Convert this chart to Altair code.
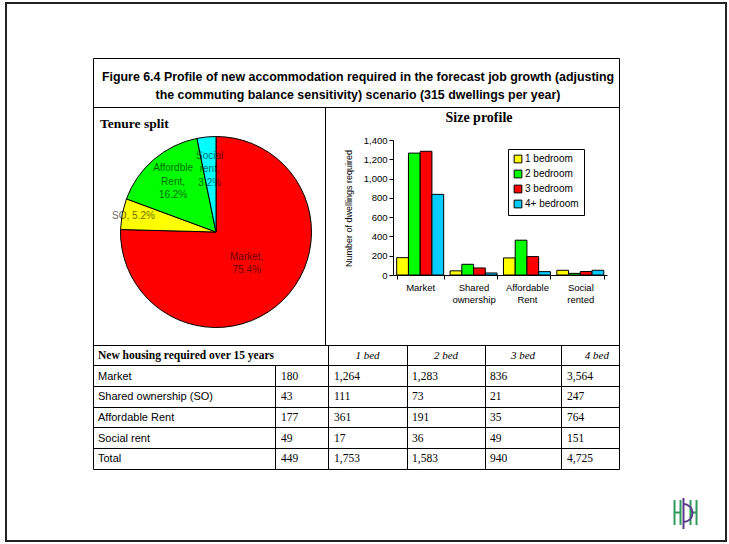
import altair as alt
import pandas as pd

# ---------------- data ----------------
title_lines = [
    "Figure 6.4 Profile of new accommodation required in the forecast job growth (adjusting",
    "the commuting balance sensitivity) scenario (315 dwellings per year)",
]
tenures = ["Market", "SO", "Affordable Rent", "Social rent"]
tenure_totals = [3564, 247, 764, 151]
pie_labels = ["Market,\n75.4%", "SO, 5.2%", "Affordble\nRent,\n16.2%", "Social\nrent,\n3.2%"]
pie_colors = ["#FF0000", "#FFFF00", "#00FF00", "#00FFFF"]

groups = ["Market", "Shared ownership", "Affordable Rent", "Social rented"]
sizes = ["1 bedroom", "2 bedroom", "3 bedroom", "4+ bedroom"]
bed1 = [180, 43, 177, 49]
bed2 = [1264, 111, 361, 17]
bed3 = [1283, 73, 191, 36]
bed4 = [836, 21, 35, 49]
bar_colors = ["#FFFF00", "#00FF00", "#FF0000", "#00CCFF"]
y_ticks = [0, 200, 400, 600, 800, 1000, 1200, 1400]

table_title = "New housing required over 15 years"
col_headers = ["1 bed", "2 bed", "3 bed", "4 bed"]
row_labels = ["Market", "Shared ownership (SO)", "Affordable Rent", "Social rent", "Total"]
tcol1 = [180, 43, 177, 49, 449]
tcol2 = [1264, 111, 361, 17, 1753]
tcol3 = [1283, 73, 191, 36, 1583]
tcol4 = [836, 21, 35, 49, 940]
tcol5 = [3564, 247, 764, 151, 4725]

SANS = "Liberation Sans, Arial, sans-serif"
NARROW = "Liberation Sans Narrow, Arial Narrow, Liberation Sans, sans-serif"
SERIF = "Liberation Serif, Times New Roman, serif"

one = pd.DataFrame({"k": [0]})


def hline(y, x1, x2, w=1, c="black"):
    return alt.Chart(one).mark_rule(strokeWidth=w, color=c).encode(
        y=alt.value(y), x=alt.value(x1), x2=alt.value(x2))


def vline(x, y1, y2, w=1, c="black"):
    return alt.Chart(one).mark_rule(strokeWidth=w, color=c).encode(
        x=alt.value(x), y=alt.value(y1), y2=alt.value(y2))


def txt(s, x, y, **kw):
    return alt.Chart(one).mark_text(text=s, baseline="middle", **kw).encode(
        x=alt.value(x), y=alt.value(y))


layers = []

# ---------------- frame ----------------
layers.append(alt.Chart(one).mark_rect(fillOpacity=0, stroke="#222222", strokeWidth=2).encode(
    x=alt.value(6), x2=alt.value(726), y=alt.value(3), y2=alt.value(541)))
BL, BR, BT, BB = 93.5, 619.5, 58.5, 469.5
layers += [
    hline(BT, BL, BR), hline(BB, BL, BR), vline(BL, BT, BB), vline(BR, BT, BB),
    hline(107.5, BL, BR), hline(345.5, BL, BR), vline(325.5, 107.5, 345.5),
]
row_edges = [365.5, 386.5, 407.5, 427.5, 448.5]
for ry in row_edges:
    layers.append(hline(ry, BL, BR))
layers.append(vline(275.5, 365.5, BB))
for cx in [328.5, 407.5, 485.5, 561.5]:
    layers.append(vline(cx, 345.5, BB))

# ---------------- titles ----------------
layers.append(txt(title_lines[0], 358, 76.5, font=SANS, fontSize=12.4, fontWeight="bold", align="center"))
layers.append(txt(title_lines[1], 358, 95, font=SANS, fontSize=12.4, fontWeight="bold", align="center"))
layers.append(txt("Tenure split", 100, 124, font=SERIF, fontSize=13.5, fontWeight="bold", align="left"))
layers.append(txt("Size profile", 479, 118, font=SERIF, fontSize=14, fontWeight="bold", align="center"))

# ---------------- pie ----------------
pie_df = pd.DataFrame({"tenure": tenures, "total": tenure_totals,
                       "label": pie_labels, "idx": list(range(len(tenures)))})
pie = alt.Chart(pie_df).mark_arc(outerRadius=95.5, stroke="black", strokeWidth=1).encode(
    theta=alt.Theta("total:Q", stack=True),
    order=alt.Order("idx:Q"),
    color=alt.Color("tenure:N", sort=tenures,
                    scale=alt.Scale(domain=tenures, range=pie_colors), legend=None),
    x=alt.value(216), y=alt.value(232),
)
layers.append(pie)
LH = 13.5
for n in (1, 2, 3):
    lbl = alt.Chart(pie_df).transform_joinaggregate(
        tot="sum(total)"
    ).transform_window(
        cum="sum(total)", sort=[alt.SortField("idx")], frame=[None, 0]
    ).transform_calculate(
        frac="(datum.cum - datum.total / 2) / datum.tot",
        lr="datum.tenure == 'Market' ? 44 : datum.tenure == 'SO' ? 84 : datum.tenure == 'Affordable Rent' ? 66 : 63",
        nl="length(split(datum.label, '\\n'))",
    ).transform_filter(
        f"datum.nl == {n}"
    ).mark_text(lineBreak="\n", font=NARROW, fontSize=10, lineHeight=LH,
                align="center", baseline="middle", fill="black", opacity=0.6,
                dy=-(n - 1) * LH / 2).encode(
        theta=alt.Theta("frac:Q", stack=None,
                        scale=alt.Scale(domain=[0, 1], range=[0, 6.283185307])),
        radius=alt.Radius("lr:Q", scale=None),
        text="label:N",
        x=alt.value(216), y=alt.value(232),
    )
    layers.append(lbl)

# ---------------- bars ----------------
bar_rows = []
for s, vals in zip(sizes, [bed1, bed2, bed3, bed4]):
    for g, v in zip(groups, vals):
        bar_rows.append({"group": g, "size": s, "value": v})
bar_df = pd.DataFrame(bar_rows)

bars = alt.Chart(bar_df).mark_bar(stroke="black", strokeWidth=1).encode(
    x=alt.X("group:N", sort=groups, title=None,
            scale=alt.Scale(range=[393.5, 607], paddingInner=0.12, paddingOuter=0.06),
            axis=alt.Axis(orient="bottom", offset=-269, labelAngle=0,
                          labelExpr="split(datum.label, ' ')",
                          labelFont=SANS, labelFontSize=9.5, labelColor="black",
                          labelLineHeight=12, labelPadding=3,
                          tickBand="extent", tickSize=4, tickColor="black",
                          domainColor="black", grid=False)),
    xOffset=alt.XOffset("size:N", sort=sizes),
    y=alt.Y("value:Q",
            scale=alt.Scale(domain=[0, 1400], range=[275, 140], nice=False),
            axis=alt.Axis(orient="left", offset=-393, values=y_ticks, format=",d",
                          title="Number of dwellings required", titleFont=SANS,
                          titleFontSize=9, titleFontWeight="normal", titleColor="black",
                          titleX=-45, titleY=208, titleAlign="center", titleBaseline="middle",
                          labelFont=SANS, labelFontSize=9.5, labelColor="black",
                          labelPadding=2, tickSize=4, tickColor="black",
                          domainColor="black", grid=False)),
    color=alt.Color("size:N", sort=sizes,
                    scale=alt.Scale(domain=sizes, range=bar_colors),
                    legend=alt.Legend(orient="none", legendX=508, legendY=149, title=None,
                                      strokeColor="black", fillColor="white", padding=5,
                                      symbolType="square", symbolSize=60,
                                      symbolStrokeColor="black", symbolStrokeWidth=1,
                                      symbolOpacity=1, labelFont=SANS, labelFontSize=10,
                                      labelColor="black", rowPadding=3, labelOffset=2)),
)
layers.append(bars)

# ---------------- table ----------------
ty = alt.Y("row:O", axis=None,
           scale=alt.Scale(type="point", domain=list(range(6)), range=[345.5, 469.5], padding=0.5))

hdr_df = pd.DataFrame({"row": [0], "text": [table_title]})
layers.append(alt.Chart(hdr_df).mark_text(font=SERIF, fontSize=11.5, fontWeight="bold",
                                          align="left", baseline="middle").encode(
    x=alt.value(98), y=ty, text="text:N"))
hdr_x = [367.5, 446, 523, 609]
hdr_align = ["center", "center", "center", "right"]
for h, hx, ha in zip(col_headers, hdr_x, hdr_align):
    d = pd.DataFrame({"row": [0], "text": [h]})
    layers.append(alt.Chart(d).mark_text(font=SERIF, fontSize=11, fontStyle="italic",
                                         align=ha, baseline="middle").encode(
        x=alt.value(hx), y=ty, text="text:N"))

lab_df = pd.DataFrame({"row": list(range(1, 6)), "text": row_labels})
layers.append(alt.Chart(lab_df).mark_text(font=SANS, fontSize=11, align="left",
                                          baseline="middle").encode(
    x=alt.value(98), y=ty, text="text:N"))

col_x = [281, 334, 412, 490, 567]
for cx, col in zip(col_x, [tcol1, tcol2, tcol3, tcol4, tcol5]):
    d = pd.DataFrame({"row": list(range(1, 6)), "text": [f"{v:,}" for v in col]})
    layers.append(alt.Chart(d).mark_text(font=SERIF, fontSize=11.5, align="left",
                                         baseline="middle").encode(
        x=alt.value(cx), y=ty, text="text:N"))

# ---------------- logo (drawn with strokes) ----------------
GREEN, PURPLE = "#2e9a5a", "#5b3a8c"
layers += [
    vline(674.5, 500, 525, w=2, c=GREEN), vline(680.5, 500, 525, w=2, c=GREEN),
    hline(512.5, 674.5, 680.5, w=2, c=GREEN),
    vline(690.5, 500, 525, w=2, c=GREEN), vline(696.5, 500, 525, w=2, c=GREEN),
    hline(512.5, 690.5, 696.5, w=2, c=GREEN),
    vline(683.5, 498, 529, w=2, c=PURPLE),
]
layers.append(alt.Chart(one).mark_arc(radius=10, radius2=8, theta=0, theta2=3.14159,
                                      color=PURPLE).encode(
    x=alt.value(683.5), y=alt.value(513)))

chart = alt.layer(*layers).resolve_scale(
    x="independent", y="independent", color="independent", theta="independent"
).properties(
    width=729, height=544, padding=0,
    autosize=alt.AutoSizeParams(type="none"), background="white",
).configure_view(stroke=None)

chart.save("out.html", embed_options={"renderer": "svg", "actions": False})
